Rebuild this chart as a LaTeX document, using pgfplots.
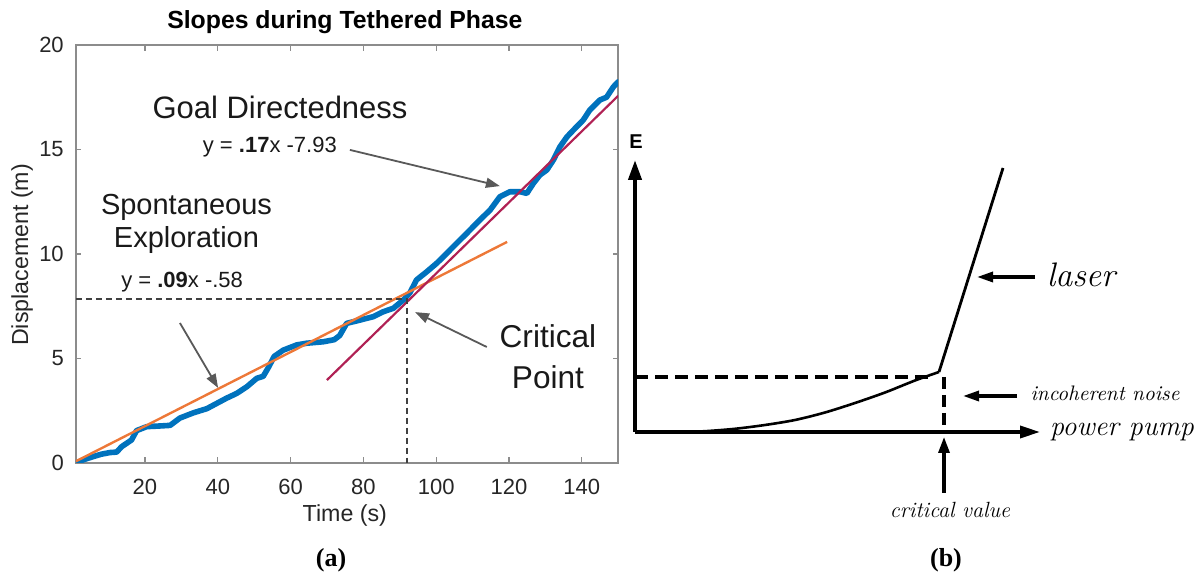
\documentclass[border=0pt]{standalone}
\usepackage{pgfplots}
\pgfplotsset{compat=1.18}
\usepackage{pgfplotstable}
\usepackage{fontspec}
\usetikzlibrary{arrows.meta}
\newfontfamily\arial{Liberation Sans}
\newfontfamily\timesf{Liberation Serif}

\definecolor{mblue}{rgb}{0.0,0.447,0.741}
\definecolor{morange}{rgb}{0.93,0.47,0.22}
\definecolor{mred}{rgb}{0.69,0.13,0.33}
\definecolor{agray}{rgb}{0.35,0.35,0.35}
\definecolor{boxgray}{rgb}{0.55,0.55,0.55}

% displacement over time during the tethered phase
\pgfplotstableread{
x y
1.3 0.00
3.0 0.15
5.7 0.30
8.0 0.42
10.4 0.50
12.2 0.52
13.6 0.78
16.3 1.10
17.7 1.55
20.5 1.74
24.0 1.77
26.9 1.80
29.6 2.15
33.3 2.40
37.0 2.60
39.7 2.85
42.4 3.10
45.2 3.33
48.0 3.65
50.7 4.05
52.5 4.15
54.0 4.60
55.5 5.10
58.0 5.40
61.7 5.65
64.4 5.73
69.0 5.80
72.0 5.90
73.5 6.10
75.4 6.68
79.1 6.84
82.7 7.00
85.5 7.24
88.2 7.40
91.0 7.80
92.8 8.15
94.6 8.76
97.4 9.15
100.1 9.55
102.0 9.87
104.7 10.35
108.4 10.99
112.0 11.63
114.8 12.10
117.5 12.74
120.3 12.98
123.0 12.98
124.9 12.90
126.7 13.38
128.5 13.78
130.4 14.02
132.2 14.50
134.0 15.13
135.9 15.60
137.7 15.93
140.4 16.41
142.2 16.89
145.0 17.37
146.8 17.50
148.7 18.00
150.0 18.24
}\disptable

% laser output versus pump power (sketch units)
\pgfplotstableread{
x y
45 0
70 0.8
100 3.2
130 7
160 12
190 19.5
220 29
250 39.5
280 51.5
304 60
}\noisetable

\pgfplotstableread{
x y
304 60
368 264
}\lasertable

\begin{document}
\begin{tikzpicture}[x=1pt,y=1pt]
\useasboundingbox (0,0) rectangle (602,288);

% ---------------- panel (a) ----------------
\begin{axis}[
  at={(37.9pt,56.5pt)}, anchor=south west,
  scale only axis, width=271.2pt, height=209pt,
  xmin=1, xmax=150, ymin=0, ymax=20,
  xtick={20,40,...,140}, ytick={0,5,...,20},
  tick align=inside, major tick length=2.8pt,
  axis line style={boxgray, line width=0.8pt},
  every tick/.style={boxgray, line width=0.6pt},
  tick label style={font=\arial\fontsize{11}{13}\selectfont, text=black!85},
  xticklabel style={yshift=-4.5pt},
  yticklabel style={xshift=-2.5pt},
  /pgf/number format/assume math mode=true,
  title={\arial\bfseries Slopes during Tethered Phase},
  title style={font=\arial\fontsize{12.4}{14}\selectfont, at={(rel axis cs:0.496,1)}, yshift=5.5pt, anchor=center},
  xlabel={Time (s)},
  xlabel style={font=\arial\fontsize{11.6}{13}\selectfont, text=black!85, at={(rel axis cs:0.496,0)}, yshift=-26.5pt, anchor=center},
  ylabel={Displacement (m)},
  ylabel style={font=\arial\fontsize{11.6}{13}\selectfont, text=black!85, at={(rel axis cs:-0.099,0.4976)}, anchor=center},
  clip mode=individual,
]
\addplot[mblue, line width=2.8pt, line join=round, line cap=round] table[x=x,y=y]{\disptable};
% fitted line, exploration phase
\addplot[morange, line width=1.2pt] coordinates {(1,0.08) (119.5,10.58)};
% fitted line, goal-directed phase: y = .17x - 7.93
\addplot[mred, line width=1.1pt] coordinates {(70,3.97) (150,17.57)};
% critical point guides
\addplot[black!75, line width=0.6pt, dash pattern=on 3pt off 2pt] coordinates {(1,7.85) (92,7.85) (92,0)};

\node[font=\arial\fontsize{15.5}{18}\selectfont, text=black!90] at (axis cs:57.1,16.99) {Goal Directedness};
\node[font=\arial\fontsize{11}{13}\selectfont, text=black!90] at (axis cs:54.3,15.1) {y = \textbf{.17}x -7.93};
\node[font=\arial\fontsize{14.5}{16.5}\selectfont, text=black!90, align=center] at (axis cs:31.4,11.46) {Spontaneous\\Exploration};
\node[font=\arial\fontsize{11}{13}\selectfont, text=black!90] at (axis cs:30.2,8.66) {y = \textbf{.09}x -.58};
\node[font=\arial\fontsize{15.8}{20.5}\selectfont, text=black!90, align=center] at (axis cs:130.7,5.07) {Critical\\Point};

\draw[agray, line width=0.9pt, -{Triangle[length=7pt,width=5pt]}] (axis cs:76.3,14.98) -- (axis cs:117.5,13.25);
\draw[agray, line width=0.9pt, -{Triangle[length=7pt,width=5pt]}] (axis cs:29.6,6.70) -- (axis cs:40.1,3.59);
\draw[agray, line width=0.9pt, -{Triangle[length=7pt,width=5pt]}] (axis cs:113.9,5.55) -- (axis cs:94.2,7.22);
\end{axis}

% ---------------- panel (b) ----------------
\begin{axis}[
  at={(317.5pt,72pt)}, anchor=south west,
  scale only axis, width=200pt, height=140pt,
  xmin=0, xmax=400, ymin=0, ymax=280,
  hide axis, clip=false,
]
% axes of the sketch
\draw[black, line width=2pt, -{Triangle[length=10pt,width=6.5pt]}] (axis cs:0,0) -- (axis cs:0,272);
\draw[black, line width=1.8pt, -{Triangle[length=10pt,width=6pt]}] (axis cs:0,0) -- (axis cs:405,0);
\node[font=\arial\bfseries\fontsize{10}{12}\selectfont] at (axis cs:1,290) {E};

\addplot[black, line width=1.3pt, smooth] table[x=x,y=y]{\noisetable};
\addplot[black, line width=1.4pt] table[x=x,y=y]{\lasertable};

\draw[black, line width=2.3pt, dash pattern=on 6.5pt off 3.5pt] (axis cs:0,55) -- (axis cs:300,55);
\draw[black, line width=1.8pt, dash pattern=on 6pt off 3pt] (axis cs:309,55) -- (axis cs:309,2);

\draw[black, line width=1.6pt, -{Triangle[length=8pt,width=5.5pt]}] (axis cs:309,-61) -- (axis cs:309,-5);
\draw[black, line width=1.6pt, -{Triangle[length=8pt,width=5pt]}] (axis cs:382,36) -- (axis cs:328,36);
\draw[black, line width=1.6pt, -{Triangle[length=8pt,width=5pt]}] (axis cs:400,155) -- (axis cs:342,155);

\node[font=\itshape\fontsize{11}{13}\selectfont] at (axis cs:315,-78) {critical value};
\node[font=\itshape\fontsize{10.5}{12}\selectfont] at (axis cs:470,39) {incoherent noise};
\node[font=\itshape\fontsize{17}{19}\selectfont] at (axis cs:446,157) {laser};
\node[font=\itshape\fontsize{14}{16}\selectfont, anchor=west] at (axis cs:408,0) {power pump};
\end{axis}

% panel captions
\node[font=\timesf\bfseries\fontsize{13}{15}\selectfont] at (165.5,8) {(a)};
\node[font=\timesf\bfseries\fontsize{13}{15}\selectfont] at (473,8) {(b)};
\end{tikzpicture}
\end{document}
